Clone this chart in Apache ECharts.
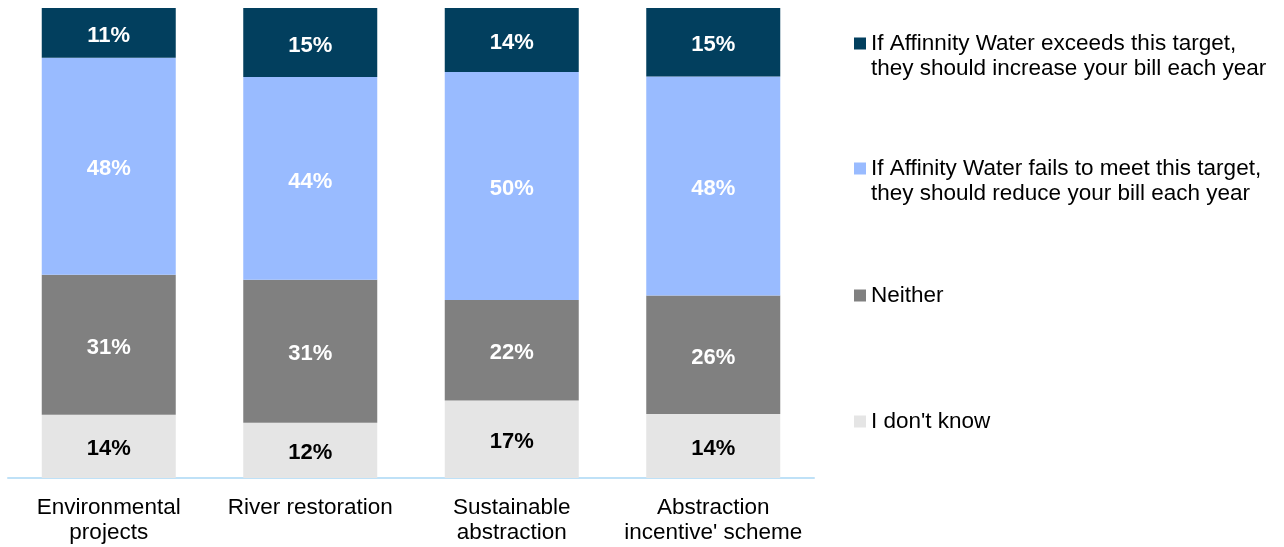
<!DOCTYPE html>
<html>
<head>
<meta charset="utf-8">
<script src="https://cdn.jsdelivr.net/npm/echarts@6/dist/echarts.min.js"></script>
<style>
  html, body { margin: 0; padding: 0; background: #fff; }
  #chart { width: 1284px; height: 547px; }
</style>
</head>
<body>
<div id="chart"></div>
<script>
// Categories along the x axis
const categories = [
  'Environmental\nprojects',
  'River restoration',
  'Sustainable\nabstraction',
  "Abstraction\nincentive' scheme"
];

// Response shares (%) per category, as reported
const dontKnow = [14, 12, 17, 14];
const neither  = [31, 31, 22, 26];
const reduce   = [48, 44, 50, 48];
const increase = [11, 15, 14, 15];

const seriesNames = [
  "I don't know",
  'Neither',
  'If Affinity Water fails to meet this target,\nthey should reduce your bill each year',
  'If Affinnity Water exceeds this target,\nthey should increase your bill each year'
];
const seriesColors = ['#e5e5e5', '#808080', '#99bbff', '#023f5e'];
const labelColors  = ['#000000', '#ffffff', '#ffffff', '#ffffff'];

// Each bar fills the full height: shares are scaled by the bar's own total
const raw = [dontKnow, neither, reduce, increase];
const totals = categories.map((_, i) => raw.reduce((s, arr) => s + arr[i], 0));

const FONT = 'Liberation Sans, Arial, sans-serif';

const series = raw.map((arr, k) => ({
  name: seriesNames[k],
  type: 'bar',
  stack: 'total',
  barWidth: 134,
  itemStyle: { color: seriesColors[k] },
  label: {
    show: true,
    position: 'inside',
    offset: [0, 3],
    color: labelColors[k],
    fontFamily: FONT,
    fontWeight: 'bold',
    fontSize: 22,
    formatter: p => arr[p.dataIndex] + '%'
  },
  emphasis: { disabled: true },
  data: arr.map((v, i) => v / totals[i] * 100)
}));

const legendBase = {
  orient: 'vertical',
  left: 854,
  padding: 0,
  itemWidth: 12,
  itemHeight: 12,
  itemGap: 0,
  icon: 'rect',
  selectedMode: false,
  textStyle: {
    fontFamily: FONT,
    fontSize: 22.5,
    lineHeight: 25,
    color: '#000'
  }
};
// Two-line entries: a leading blank line keeps the swatch beside the first line
const firstLineSwatch = { formatter: name => '\n' + name };

const chart = echarts.init(document.getElementById('chart'), null, { renderer: 'canvas' });
chart.setOption({
  animation: false,
  backgroundColor: '#ffffff',
  grid: { left: 8, right: 470, top: 8, bottom: 69, containLabel: false },
  legend: [
    Object.assign({}, legendBase, firstLineSwatch, { top: 6, data: [seriesNames[3]] }),
    Object.assign({}, legendBase, firstLineSwatch, { top: 131, data: [seriesNames[2]] }),
    Object.assign({}, legendBase, { top: 283, data: [seriesNames[1]] }),
    Object.assign({}, legendBase, { top: 409, data: [seriesNames[0]] })
  ],
  xAxis: {
    type: 'category',
    data: categories,
    axisLine: { show: true, lineStyle: { color: '#bfe1f7', width: 2 } },
    axisTick: { show: false },
    axisLabel: {
      interval: 0,
      margin: 17,
      color: '#000',
      fontFamily: FONT,
      fontSize: 22.5,
      lineHeight: 25
    }
  },
  yAxis: {
    type: 'value',
    min: 0,
    max: 100,
    show: false,
    splitLine: { show: false }
  },
  series: series
});
</script>
</body>
</html>
